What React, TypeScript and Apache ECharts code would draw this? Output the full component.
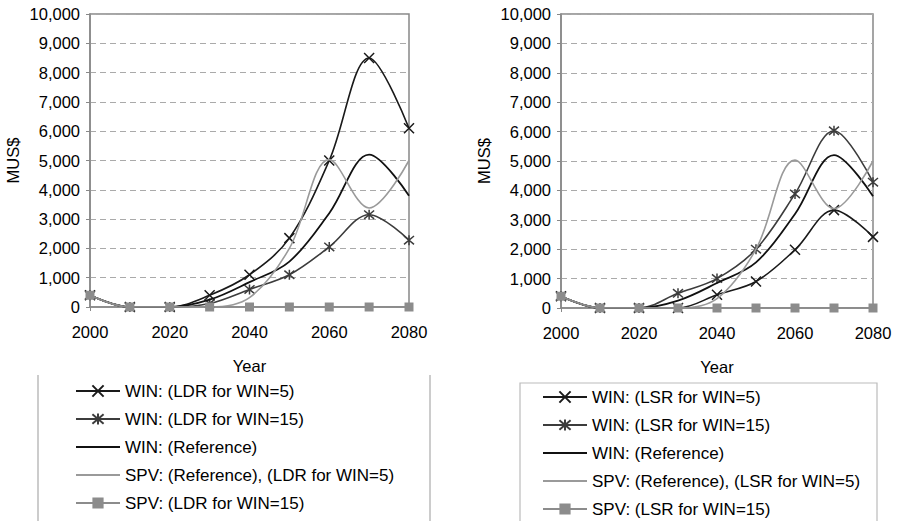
import React, { useEffect, useRef } from "react";
import * as echarts from "echarts";

const years = [2000, 2010, 2020, 2030, 2040, 2050, 2060, 2070, 2080];

// Left panel (LDR)
const ldrWin5 = [400, 0, 0, 400, 1100, 2350, 5000, 8500, 6100];
const ldrWin15 = [400, 0, 0, 120, 600, 1100, 2050, 3150, 2280];
const winRef = [400, 0, 0, 250, 850, 1550, 3200, 5200, 3800];
const spvRef = [400, 0, 0, 0, 320, 2000, 5030, 3380, 5000];
const spvLdr15 = [400, 0, 0, 0, 0, 0, 0, 0, 0];

// Right panel (LSR)
const lsrWin5 = [400, 0, 0, 0, 450, 900, 1980, 3330, 2420];
const lsrWin15 = [400, 0, 0, 500, 1000, 2000, 3880, 6030, 4280];
const spvLsr15 = [400, 0, 0, 0, 0, 0, 0, 0, 0];

const leftNames = [
  "WIN: (LDR for WIN=5)",
  "WIN: (LDR for WIN=15)",
  "WIN: (Reference)",
  "SPV: (Reference), (LDR for WIN=5)",
  "SPV: (LDR for WIN=15)",
];
const rightNames = [
  "WIN: (LSR for WIN=5)",
  "WIN: (LSR for WIN=15)",
  "WIN: (Reference)",
  "SPV: (Reference), (LSR for WIN=5)",
  "SPV: (LSR for WIN=15)",
];

const yTicks = [0, 1000, 2000, 3000, 4000, 5000, 6000, 7000, 8000, 9000, 10000];
const xLabelYears = [2000, 2020, 2040, 2060, 2080];

const FONT = "'Liberation Sans', Arial, sans-serif";
const CROSS = "path://M0,0L10,10M10,0L0,10";
const STAR = "path://M0,0L10,10M10,0L0,10M5,-1L5,11";

const styles = [
  { color: "#1a1a1a", symbol: CROSS, size: 10, width: 1.6 },
  { color: "#3c3c3c", symbol: STAR, size: 10, width: 1.6 },
  { color: "#111111", symbol: "none", size: 0, width: 1.8 },
  { color: "#9a9a9a", symbol: "none", size: 0, width: 1.6 },
  { color: "#8c8c8c", symbol: "rect", size: 9, width: 1.6 },
];

const pairs = (vals: number[]) => years.map((y, i) => [y, vals[i]]);

function makeSeries(names: string[], vals: number[][], idx: number) {
  return names.map((name, i) => {
    const s = styles[i];
    const isPath = s.symbol.startsWith("path");
    return {
      name,
      type: "line",
      xAxisIndex: idx,
      yAxisIndex: idx,
      data: pairs(vals[i]),
      smooth: 0.35,
      symbol: s.symbol,
      symbolSize: s.size,
      showSymbol: s.symbol !== "none",
      lineStyle: { color: s.color, width: s.width },
      itemStyle: isPath
        ? { color: "transparent", borderColor: s.color, borderWidth: 1.5 }
        : { color: s.color, borderWidth: 0 },
      emphasis: { disabled: true },
      z: 2 + i,
    };
  });
}

function legendData(names: string[]) {
  return names.map((name, i) =>
    styles[i].symbol === "none"
      ? { name, itemStyle: { opacity: 0 } }
      : { name }
  );
}

function axisPair(idx: number) {
  const xAxis = {
    type: "value",
    gridIndex: idx,
    min: 2000,
    max: 2080,
    interval: 20,
    name: "Year",
    nameLocation: "middle",
    nameGap: 50,
    nameTextStyle: { fontFamily: FONT, fontSize: 16.5, color: "#000" },
    axisLine: { show: true, lineStyle: { color: "#888", width: 1.5 } },
    axisTick: { show: true, length: 4, lineStyle: { color: "#888" } },
    axisLabel: {
      fontFamily: FONT,
      fontSize: 16.5,
      color: "#000",
      margin: 16,
      formatter: (v: number) => (xLabelYears.includes(v) ? String(v) : ""),
    },
    splitLine: { show: false },
  };
  const yAxis = {
    type: "value",
    gridIndex: idx,
    min: yTicks[0],
    max: yTicks[yTicks.length - 1],
    interval: 1000,
    name: "MUS$",
    nameLocation: "middle",
    nameRotate: 90,
    nameGap: 69,
    nameTextStyle: { fontFamily: FONT, fontSize: 16.5, color: "#000" },
    axisLine: { show: true, lineStyle: { color: "#888", width: 1.5 } },
    axisTick: { show: true, length: 4, lineStyle: { color: "#888" } },
    axisLabel: {
      fontFamily: FONT,
      fontSize: 16.5,
      color: "#000",
      margin: 10,
      formatter: (v: number) => v.toLocaleString("en-US"),
    },
    splitLine: {
      show: true,
      lineStyle: { color: "#aaaaaa", type: [6, 4], width: 1 },
    },
  };
  return { xAxis, yAxis };
}

export default function App() {
  const ref = useRef<HTMLDivElement>(null);
  useEffect(() => {
    if (!ref.current) return;
    const chart = echarts.init(ref.current, undefined, { renderer: "svg" });
    const a0 = axisPair(0);
    const a1 = axisPair(1);
    const legendCommon = {
      orient: "vertical",
      itemWidth: 44,
      itemHeight: 14,
      itemGap: 10,
      padding: 0,
      selectedMode: false,
      textStyle: { fontFamily: FONT, fontSize: 17, color: "#000", lineHeight: 18 },
    };
    chart.setOption({
      animation: false,
      backgroundColor: "#fff",
      grid: [
        { left: 90, top: 14, width: 319, height: 293, show: true, borderColor: "#888", borderWidth: 1.5 },
        { left: 561, top: 14, width: 312, height: 294, show: true, borderColor: "#888", borderWidth: 1.5 },
      ],
      xAxis: [a0.xAxis, a1.xAxis],
      yAxis: [a0.yAxis, a1.yAxis],
      legend: [
        { ...legendCommon, left: 75, top: 382, data: legendData(leftNames) },
        { ...legendCommon, left: 542, top: 388, data: legendData(rightNames) },
      ],
      graphic: [
        { type: "line", shape: { x1: 38, y1: 375, x2: 38, y2: 521 }, style: { stroke: "#999", lineWidth: 1 } },
        { type: "line", shape: { x1: 430, y1: 375, x2: 430, y2: 521 }, style: { stroke: "#999", lineWidth: 1 } },
        { type: "rect", shape: { x: 520, y: 383, width: 357, height: 160 }, style: { fill: "none", stroke: "#bbb", lineWidth: 1.2 } },
      ],
      series: [
        ...makeSeries(leftNames, [ldrWin5, ldrWin15, winRef, spvRef, spvLdr15], 0),
        ...makeSeries(rightNames, [lsrWin5, lsrWin15, winRef, spvRef, spvLsr15], 1),
      ],
    });
    return () => chart.dispose();
  }, []);
  return (
    <div
      ref={ref}
      style={{ position: "fixed", left: 0, top: 0, width: 902, height: 521 }}
    />
  );
}
